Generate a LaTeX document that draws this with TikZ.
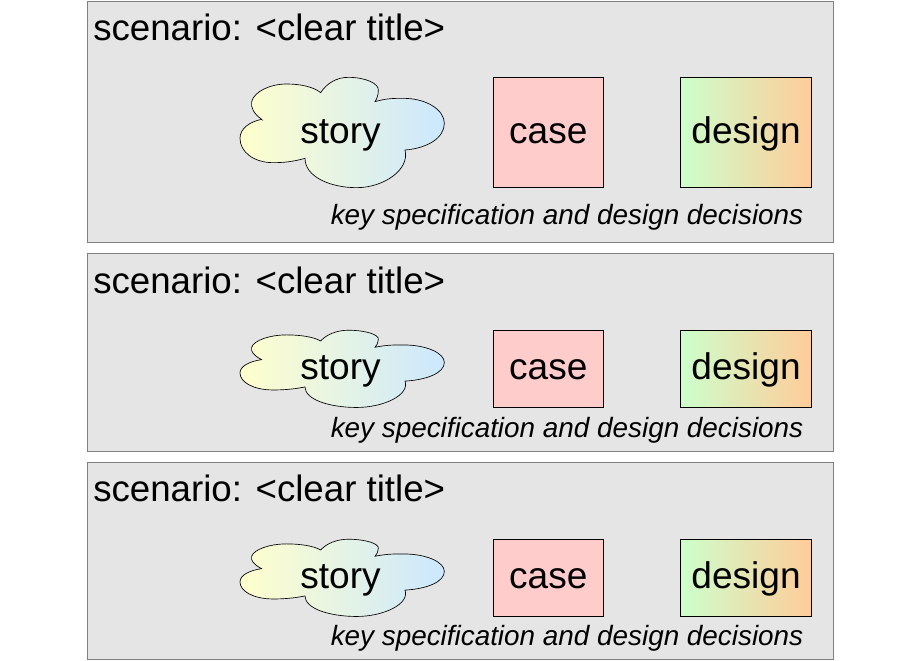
\documentclass[tikz,border=0pt]{standalone}
\usepackage{fontspec}
\setmainfont{Liberation Sans}
\definecolor{cloudleft}{RGB}{255,255,204}
\definecolor{cloudright}{RGB}{204,232,255}
\definecolor{designleft}{RGB}{204,255,204}
\definecolor{designright}{RGB}{255,204,153}
\definecolor{casefill}{RGB}{255,204,204}
\newcommand{\cloudpath}{(95,148) .. controls (70,130) and (62,112) .. (65,95)
    .. controls (72,65) and (120,42) .. (170,42)
    .. controls (210,42) and (250,50) .. (272,68)
    .. controls (290,40) and (320,22) .. (355,22)
    .. controls (405,22) and (448,40) .. (445,62)
    .. controls (445,75) and (440,88) .. (435,95)
    .. controls (470,85) and (490,85) .. (520,85)
    .. controls (590,85) and (643,120) .. (643,160)
    .. controls (643,205) and (590,235) .. (525,240)
    .. controls (540,300) and (460,353) .. (380,353)
    .. controls (300,353) and (225,320) .. (225,265)
    .. controls (190,275) and (160,278) .. (130,278)
    .. controls (70,278) and (30,245) .. (30,205)
    .. controls (30,175) and (60,155) .. cycle}
\begin{document}
\begin{tikzpicture}[x=0.75pt,y=-0.75pt,
panel/.style={draw=black!50,fill=black!10,rectangle,line width=0.6pt,minimum width=559.5pt,inner sep=0pt},
paneltitle/.style={anchor=base west,inner sep=0pt,font=\fontsize{27.5}{30}\selectfont},
cloudbody/.style={draw=black,line width=0.5pt,left color=cloudleft,right color=cloudright},
cloudlabel/.style={anchor=base,inner sep=0pt,font=\fontsize{27.8}{30}\selectfont},
casebox/.style={draw=black,line width=0.5pt,fill=casefill,rectangle,minimum width=82.9pt,inner sep=0pt,
text height=22.2pt,text depth=6.4pt,font=\fontsize{27.8}{30}\selectfont},
designbox/.style={draw=black,line width=0.5pt,left color=designleft,right color=designright,rectangle,
minimum width=98.2pt,inner sep=0pt,text height=22.2pt,text depth=6.4pt,font=\fontsize{27.8}{30}\selectfont},
decisions/.style={anchor=base east,inner sep=0pt,font=\fontsize{20.9}{24}\selectfont\itshape}]
    \useasboundingbox (0,0) rectangle (920,660);

    \node[panel,minimum height=180.75pt] (panelone) at (460,121.5) {};
    \node[panel,minimum height=148.5pt] (paneltwo) at (460,352) {};
    \node[panel,minimum height=147.75pt] (panelthree) at (460,560.5) {};

    \node[paneltitle] (titleone) at (93,41) {scenario: <clear title>};
    \path[cloudbody,shift={(230,70)},xscale=1/3,yscale=1/3] \cloudpath;
    \node[cloudlabel] (storyone) at (340.5,143) {story};
    \node[casebox,minimum height=82.9pt,text depth=5.2pt] (caseone) at (548.3,132.3) {case};
    \node[designbox,minimum height=82.9pt,text depth=5.2pt] (designone) at (746.1,132.3) {design};
    \node[decisions] (keyone) at (803.5,224) {key specification and design decisions};

    \node[paneltitle] (titletwo) at (93,293) {scenario: <clear title>};
    \path[cloudbody,shift={(230,325.1)},xscale=1/3,yscale=0.7/3] \cloudpath;
    \node[cloudlabel] (storytwo) at (340.5,379) {story};
    \node[casebox,minimum height=58.1pt] (casetwo) at (548.3,368.8) {case};
    \node[designbox,minimum height=58.1pt] (designtwo) at (746.1,368.8) {design};
    \node[decisions] (keytwo) at (803.5,437) {key specification and design decisions};

    \node[paneltitle] (titlethree) at (93,501) {scenario: <clear title>};
    \path[cloudbody,shift={(230,534.1)},xscale=1/3,yscale=0.7/3] \cloudpath;
    \node[cloudlabel] (storythree) at (340.5,588) {story};
    \node[casebox,minimum height=58.1pt] (casethree) at (548.3,577.8) {case};
    \node[designbox,minimum height=58.1pt] (designthree) at (746.1,577.8) {design};
    \node[decisions] (keythree) at (803.5,645) {key specification and design decisions};
\end{tikzpicture}
\end{document}
